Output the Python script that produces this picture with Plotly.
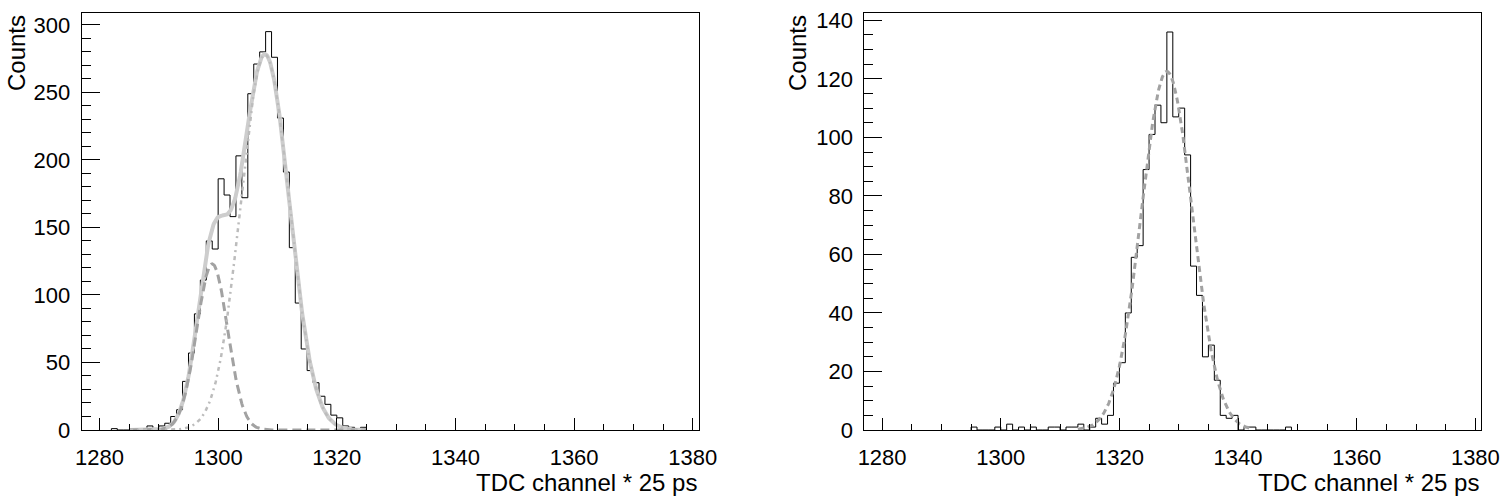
import numpy as np
import plotly.graph_objects as go

# ---------------- data ----------------
left_bins = list(range(1282, 1325))
left_counts = [1, 0, 0, 0, 1, 0, 3, 1, 3, 5, 10, 15, 36, 57, 86, 111, 140, 134,
               186, 174, 158, 203, 172, 249, 271, 280, 295, 276, 231, 191, 135,
               94, 60, 44, 35, 25, 19, 11, 9, 3, 2, 1, 2]

right_bins = list(range(1295, 1349))
right_counts = [1, 0, 0, 0, 1, 0, 2, 0, 1, 0, 1, 0, 0, 1, 1, 0, 1, 1, 2, 0,
                1, 4, 2, 5, 16, 23, 40, 59, 63, 89, 101, 111, 105, 136, 107,
                110, 94, 56, 46, 25, 29, 17, 5, 4, 5, 0, 1, 1, 0, 0, 0, 0, 0, 1]

# Gaussian fit parameters (estimated from the drawn fit curves)
left_fit_amp = [123.0, 278.0]
left_fit_mean = [1299.0, 1307.9]
left_fit_sigma = [2.6, 4.1]
left_fit_range = [1285.0, 1325.0]

right_fit_amp = [122.5]
right_fit_mean = [1328.0]
right_fit_sigma = [4.3]
right_fit_range = [1313.0, 1342.0]

x_range = [1277, 1381]
left_y_max = 309
right_y_max = 142.6
x_title = "TDC channel * 25 ps"
y_title = "Counts"

# ---------------- helpers ----------------
def step_xy(bins, counts):
    xs = [bins[0]] + list(bins) + [bins[-1] + 1]
    ys = [0] + list(counts) + [0]
    return xs, ys

def gauss(x, a, m, s):
    return a * np.exp(-0.5 * ((x - m) / s) ** 2)

W, H = 1510, 501
FONT = "Liberation Sans, Arial, Helvetica, sans-serif"

fig = go.Figure()

# left histogram
lx, ly = step_xy(left_bins, left_counts)
fig.add_trace(go.Scatter(x=lx, y=ly, mode="lines", line=dict(color="black", width=1, shape="hv"),
                         xaxis="x", yaxis="y", showlegend=False, hoverinfo="skip"))
xf = np.linspace(left_fit_range[0], left_fit_range[1], 401)
g1 = gauss(xf, left_fit_amp[0], left_fit_mean[0], left_fit_sigma[0])
g2 = gauss(xf, left_fit_amp[1], left_fit_mean[1], left_fit_sigma[1])
fig.add_trace(go.Scatter(x=xf, y=g1 + g2, mode="lines", line=dict(color="#cdcdcd", width=4),
                         xaxis="x", yaxis="y", showlegend=False, hoverinfo="skip"))
fig.add_trace(go.Scatter(x=xf, y=g1, mode="lines", line=dict(color="#a2a2a2", width=3, dash="9px,5px"),
                         xaxis="x", yaxis="y", showlegend=False, hoverinfo="skip"))
fig.add_trace(go.Scatter(x=xf, y=g2, mode="lines", line=dict(color="#bcbcbc", width=2.5, dash="4px,4px,2px,4px"),
                         xaxis="x", yaxis="y", showlegend=False, hoverinfo="skip"))

# right histogram
rx, ry = step_xy(right_bins, right_counts)
fig.add_trace(go.Scatter(x=rx, y=ry, mode="lines", line=dict(color="black", width=1, shape="hv"),
                         xaxis="x2", yaxis="y2", showlegend=False, hoverinfo="skip"))
xr = np.linspace(right_fit_range[0], right_fit_range[1], 301)
fig.add_trace(go.Scatter(x=xr, y=gauss(xr, right_fit_amp[0], right_fit_mean[0], right_fit_sigma[0]),
                         mode="lines", line=dict(color="#a2a2a2", width=3, dash="6px,4px"),
                         xaxis="x2", yaxis="y2", showlegend=False, hoverinfo="skip"))

# ---------------- layout ----------------
ydom = [71 / H, 488.3 / H]
ldom = [81.7 / W, 698.7 / W]
rdom = [864.3 / W, 1481.3 / W]

def xaxis(domain, anchor):
    return dict(domain=domain, anchor=anchor, range=x_range, showgrid=False, zeroline=False,
                showline=True, linecolor="black", linewidth=1, mirror=True,
                ticks="inside", ticklen=12, tickwidth=1, tickcolor="black",
                tick0=1280, dtick=20, ticklabelstandoff=8,
                minor=dict(ticks="inside", ticklen=6, dtick=5, tick0=1280, tickcolor="black", showgrid=False),
                tickfont=dict(family=FONT, size=22, color="black"), automargin=False, fixedrange=True)

def yaxis(anchor, ymax, dtick, minor_dtick):
    return dict(domain=ydom, anchor=anchor, range=[0, ymax], showgrid=False, zeroline=False,
                showline=True, linecolor="black", linewidth=1, mirror=True,
                ticks="inside", ticklen=18, tickwidth=1, tickcolor="black",
                tick0=0, dtick=dtick, ticklabelstandoff=6,
                minor=dict(ticks="inside", ticklen=9, dtick=minor_dtick, tick0=0, tickcolor="black", showgrid=False),
                tickfont=dict(family=FONT, size=22, color="black"), automargin=False, fixedrange=True)

fig.update_layout(
    width=W, height=H, margin=dict(l=0, r=0, t=0, b=0),
    paper_bgcolor="white", plot_bgcolor="white",
    xaxis=xaxis(ldom, "y"), yaxis=yaxis("x", left_y_max, 50, 10),
    xaxis2=xaxis(rdom, "y2"), yaxis2=yaxis("x2", right_y_max, 20, 5),
    showlegend=False,
)

annots = []
for dom in (ldom, rdom):
    annots.append(dict(text=x_title, xref="paper", yref="paper", x=dom[1], y=(H - 482) / H,
                       xanchor="right", yanchor="middle", showarrow=False,
                       font=dict(family=FONT, size=24, color="black")))
for xpix in (16, 797):
    annots.append(dict(text=y_title, xref="paper", yref="paper", x=xpix / W, y=(H - 13) / H,
                       xanchor="center", yanchor="top", textangle=-90, showarrow=False,
                       font=dict(family=FONT, size=24, color="black")))
fig.update_layout(annotations=annots)

fig.write_html("out.html", config={"displayModeBar": False},
               post_script="document.body.style.margin='0';document.body.style.overflow='hidden';")
